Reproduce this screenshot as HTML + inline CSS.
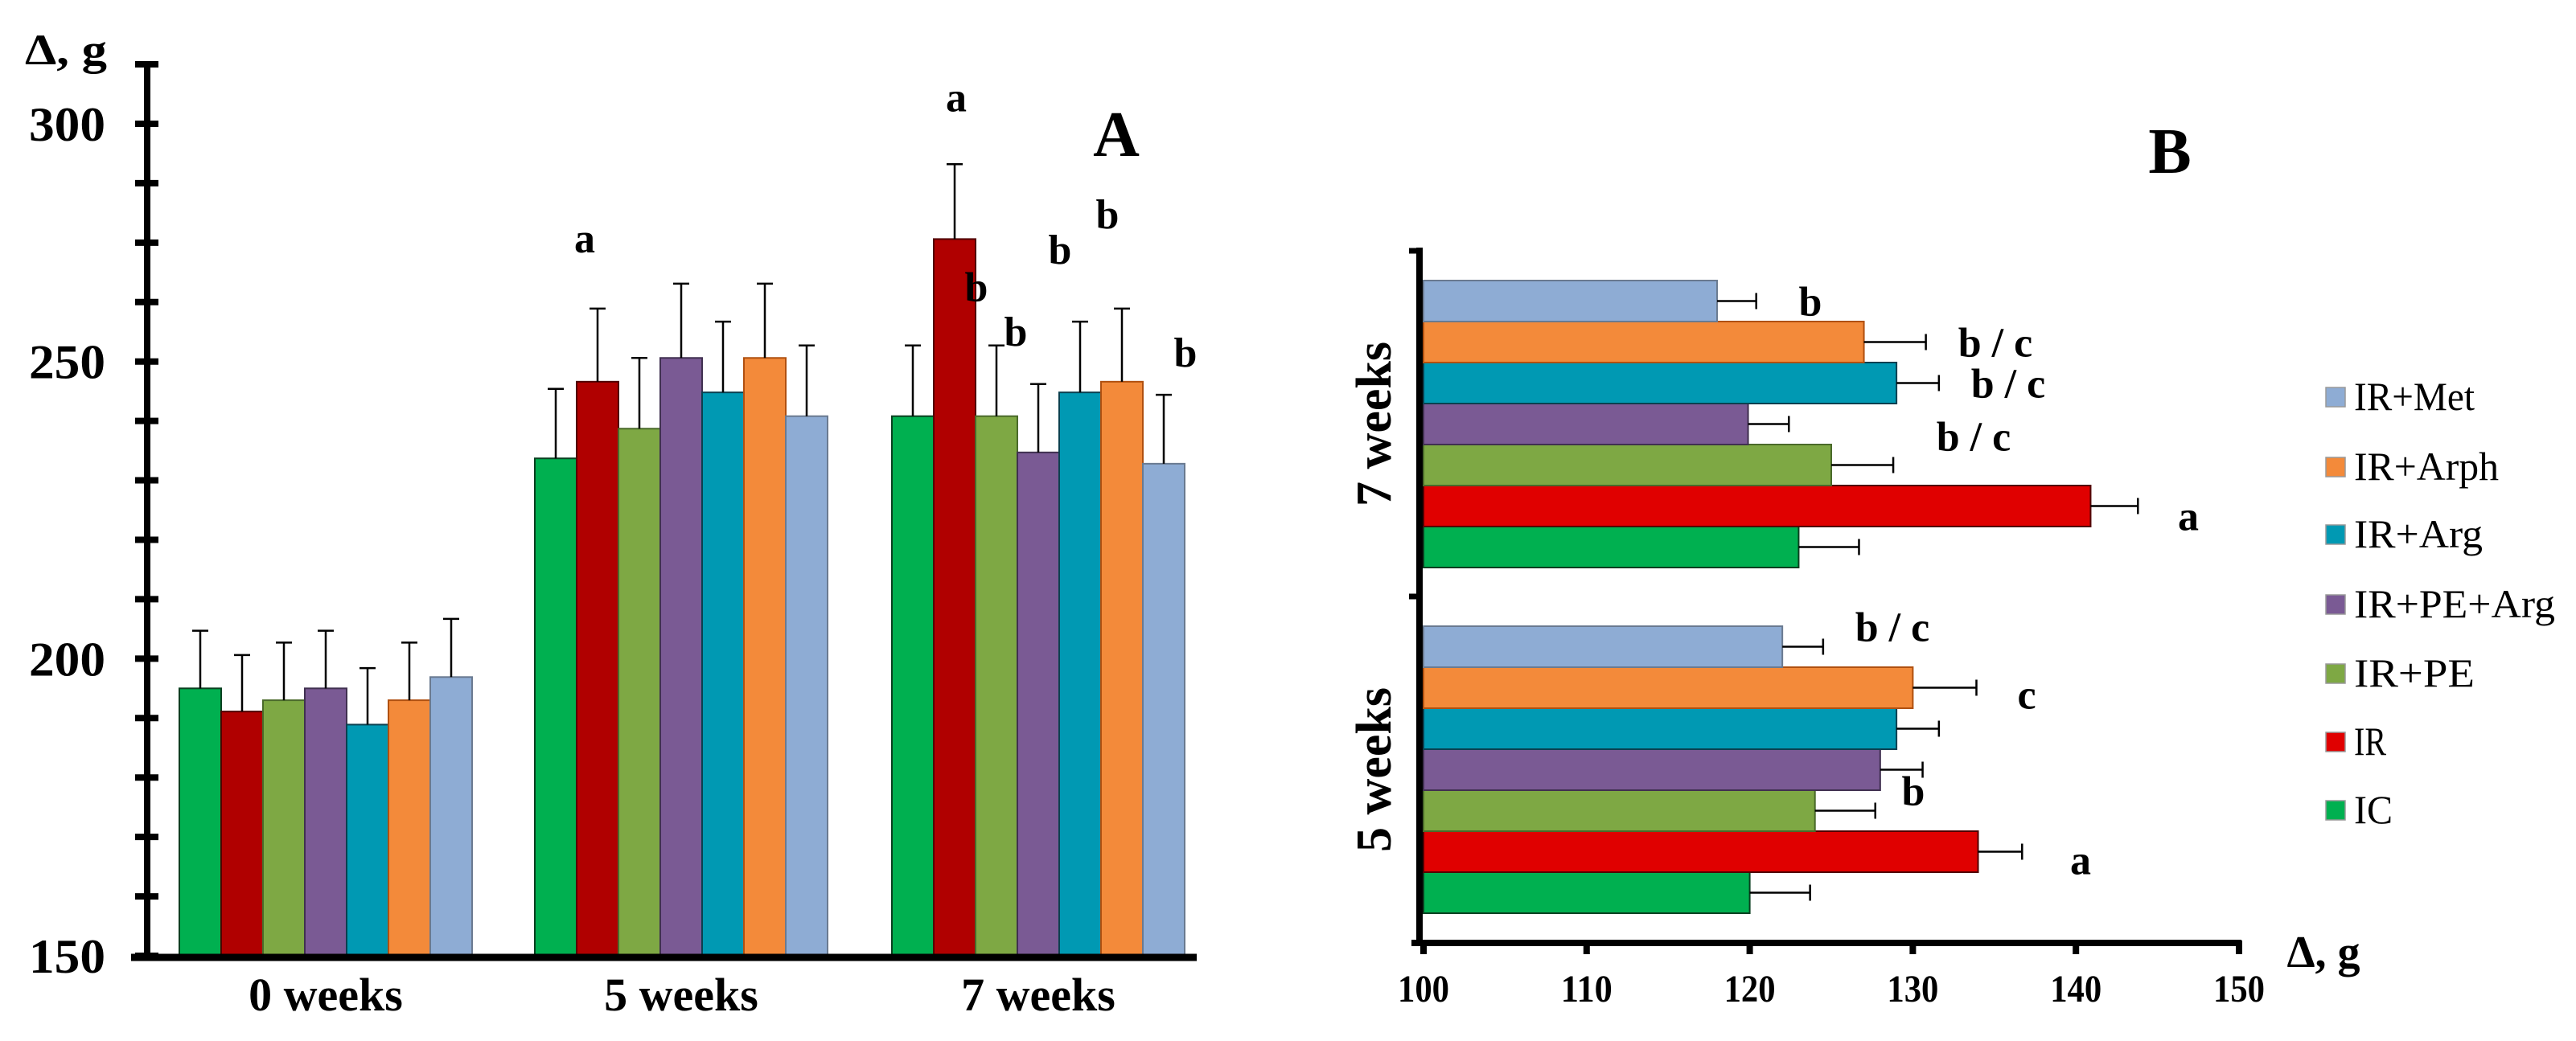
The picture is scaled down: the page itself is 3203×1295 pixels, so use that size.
<!DOCTYPE html>
<html><head><meta charset="utf-8"><style>
html,body{margin:0;padding:0;background:#fff;}
svg{display:block;font-family:"Liberation Serif",serif;}
</style></head><body>
<svg id="fig" width="3203" height="1295" viewBox="0 0 3203 1295" xmlns="http://www.w3.org/2000/svg">
<g id="panelA"></g>
<g id="panelB"></g>
</svg>
<script>
// ---- shared data ----
const seriesNames = ['IC','IR','IR+PE','IR+PE+Arg','IR+Arg','IR+Arph','IR+Met'];
const colorsA = ['#00b050','#b00000','#7ea844','#7a5a94','#0099b3','#f38a3a','#8eacd4'];
const colorsB = ['#00b050','#e00000','#7ea844','#7a5a94','#0099b3','#f38a3a','#8eacd4'];
const strokes = ['#0a4020','#500000','#4a6a2a','#403050','#0a4050','#b05010','#6a7a90'];
// ---- panel A data ----
const categoriesA = ['0 weeks','5 weeks','7 weeks'];
const valuesA = [
  [195.0,191.1,193.0,195.0,188.9,193.0,196.9],
  [233.7,246.6,238.7,250.6,244.8,250.6,240.8],
  [240.8,270.6,240.8,234.7,244.8,246.6,232.8]
];
const errorsA = [
  [204.7,200.6,202.7,204.7,198.4,202.7,206.7],
  [245.4,258.9,250.6,263.1,256.7,263.1,252.7],
  [252.7,283.2,252.7,246.2,256.7,258.9,244.4]
];
const tickLabelsA = ['150','200','250','300'];
const tickLabelValsA = [150,200,250,290];
const lettersA = [
  {g:1,s:1,t:'a',dx:-16,dy:-70},
  {g:2,s:1,t:'a',dx:2,dy:-66},
  {g:2,s:2,t:'b',dx:-25,dy:-55},
  {g:2,s:3,t:'b',dx:-28,dy:-48},
  {g:2,s:4,t:'b',dx:-25,dy:-72},
  {g:2,s:5,t:'b',dx:-18,dy:-100},
  {g:2,s:6,t:'b',dx:27,dy:-35}
];
// ---- panel B data ----
const categoriesB = ['5 weeks','7 weeks'];
const valuesB = [
  [120.0,134.0,124.0,128.0,129.0,130.0,122.0],
  [123.0,140.9,125.0,119.9,129.0,127.0,118.0]
];
const errorsB = [
  [123.7,136.7,127.7,130.6,131.6,133.9,124.5],
  [126.7,143.8,128.8,122.4,131.6,130.8,120.4]
];
const ticksB = [100,110,120,130,140,150];
const lettersB = [
  {g:1,s:6,t:'b',x:2251,dy:0},
  {g:1,s:5,t:'b / c',x:2481,dy:0},
  {g:1,s:4,t:'b / c',x:2497,dy:0},
  {g:1,s:2,t:'b / c',x:2454,dy:-36},
  {g:1,s:1,t:'a',x:2721,dy:12},
  {g:0,s:6,t:'b / c',x:2353,dy:-25},
  {g:0,s:5,t:'c',x:2520,dy:8},
  {g:0,s:2,t:'b',x:2379,dy:-25},
  {g:0,s:1,t:'a',x:2587,dy:10}
];

const NS='http://www.w3.org/2000/svg';
function mk(parent,tag,attrs,text){const e=document.createElementNS(NS,tag);for(const k in attrs)e.setAttribute(k,attrs[k]);if(text!==undefined)e.textContent=text;parent.appendChild(e);return e;}

// ===== Panel A =====
const A=document.getElementById('panelA');
const yA=v=>1189-(v-150)*7.393;
const groupStartA=[223,665,1109], bwA=52;
const xA=(g,s)=>groupStartA[g]+s*bwA;
for(let g=0;g<categoriesA.length;g++){
  for(let s=0;s<7;s++){
    const x=xA(g,s), v=valuesA[g][s], e=errorsA[g][s];
    const bar=mk(A,'rect',{x:x,y:yA(v),width:bwA,height:yA(150)-yA(v),fill:colorsA[s],stroke:strokes[s],'stroke-width':2});
    
    
    const cx=x+bwA/2;
    const eb=mk(A,'path',{d:`M${cx},${yA(v)}V${yA(e)}M${cx-10},${yA(e)}H${cx+10}`,stroke:'#000','stroke-width':2.5,fill:'none'});
    
    
  }
  const cl=mk(A,'text',{x:groupStartA[g]+bwA*3.5,y:1257,'text-anchor':'middle','font-size':58,'font-weight':'bold'},categoriesA[g]);
  
  
}
for(const L of lettersA){
  const x=xA(L.g,L.s)+bwA/2+L.dx, y=yA(errorsA[L.g][L.s])+L.dy;
  const t=mk(A,'text',{x:x,y:y,'text-anchor':'middle','font-size':52,'font-weight':'bold'},L.t);
  
  
}
// axes A
const axA=mk(A,'g',{});


mk(axA,'line',{x1:183,y1:yA(300),x2:183,y2:1193,stroke:'#000','stroke-width':8});
for(let v=150;v<=300;v+=10){mk(axA,'line',{x1:168,y1:yA(v),x2:197,y2:yA(v),stroke:'#000','stroke-width':8});}
const xaxA=mk(A,'line',{x1:163,y1:1191,x2:1488,y2:1191,stroke:'#000','stroke-width':9});


for(let i=0;i<tickLabelsA.length;i++){
  const t=mk(A,'text',{x:131,y:yA(tickLabelValsA[i])+21,'text-anchor':'end','font-size':60,'font-weight':'bold',textLength:95,lengthAdjust:'spacingAndGlyphs'},tickLabelsA[i]);
  
  
}
const ytA=mk(A,'text',{x:31,y:80,'font-size':54,'font-weight':'bold',textLength:102,lengthAdjust:'spacingAndGlyphs'},'Δ, g');


const pa=mk(A,'text',{x:1388,y:194,'text-anchor':'middle','font-size':80,'font-weight':'bold'},'A');



// ===== Panel B =====
const B=document.getElementById('panelB');
const xB=v=>1770+(v-100)*20.28;
const groupTopB=[779,349], bhB=51;
const yB=(g,s)=>groupTopB[g]+(6-s)*bhB;
for(let g=0;g<categoriesB.length;g++){
  for(let s=0;s<7;s++){
    const y=yB(g,s), v=valuesB[g][s], e=errorsB[g][s];
    const bar=mk(B,'rect',{x:xB(100),y:y,width:xB(v)-xB(100),height:bhB,fill:colorsB[s],stroke:strokes[s],'stroke-width':2});
    
    
    const cy=y+bhB/2;
    const eb=mk(B,'path',{d:`M${xB(v)},${cy}H${xB(e)}M${xB(e)},${cy-10}V${cy+10}`,stroke:'#000','stroke-width':2.5,fill:'none'});
    
    
  }
  const cy=groupTopB[g]+bhB*3.5;
  const cl=mk(B,'text',{x:0,y:0,'text-anchor':'middle','font-size':62,'font-weight':'bold',transform:`translate(1729,${cy}) rotate(-90)`},categoriesB[g]);
  
  
}
for(const L of lettersB){
  const y=yB(L.g,L.s)+bhB/2+18+L.dy;
  const t=mk(B,'text',{x:L.x,y:y,'text-anchor':'middle','font-size':52,'font-weight':'bold'},L.t);
  
  
}
const ayB=mk(B,'g',{});


mk(ayB,'line',{x1:1765,y1:308,x2:1765,y2:1177,stroke:'#000','stroke-width':8});
for(const yy of [312,742]) mk(ayB,'line',{x1:1752,y1:yy,x2:1769,y2:yy,stroke:'#000','stroke-width':7});
const axB=mk(B,'g',{});


mk(axB,'line',{x1:1755,y1:1173,x2:2787,y2:1173,stroke:'#000','stroke-width':8});
for(const v of ticksB){
  mk(axB,'line',{x1:xB(v),y1:1170,x2:xB(v),y2:1187,stroke:'#000','stroke-width':8});
  const t=mk(B,'text',{x:xB(v),y:1246,'text-anchor':'middle','font-size':48,'font-weight':'bold',textLength:64,lengthAdjust:'spacingAndGlyphs'},String(v));
  
  
}
const xtB=mk(B,'text',{x:2889,y:1203,'text-anchor':'middle','font-size':56,'font-weight':'bold'},'Δ, g');


const pb=mk(B,'text',{x:2698,y:215,'text-anchor':'middle','font-size':80,'font-weight':'bold'},'B');


// legend
const leg=mk(B,'g',{});


const legY=[1008,923,838,752,665,581,494];
const legW=[48,40,150,250,160,180,150];
for(let s=0;s<7;s++){
  const it=mk(leg,'g',{});
  
  
  mk(it,'rect',{x:2892,y:legY[s]-12,width:24,height:24,fill:colorsB[s],stroke:'#999','stroke-width':1.5});
  mk(it,'text',{x:2927,y:legY[s]+16,'font-size':50,textLength:legW[s],lengthAdjust:'spacingAndGlyphs'},seriesNames[s]);
}
</script>
</body></html>
